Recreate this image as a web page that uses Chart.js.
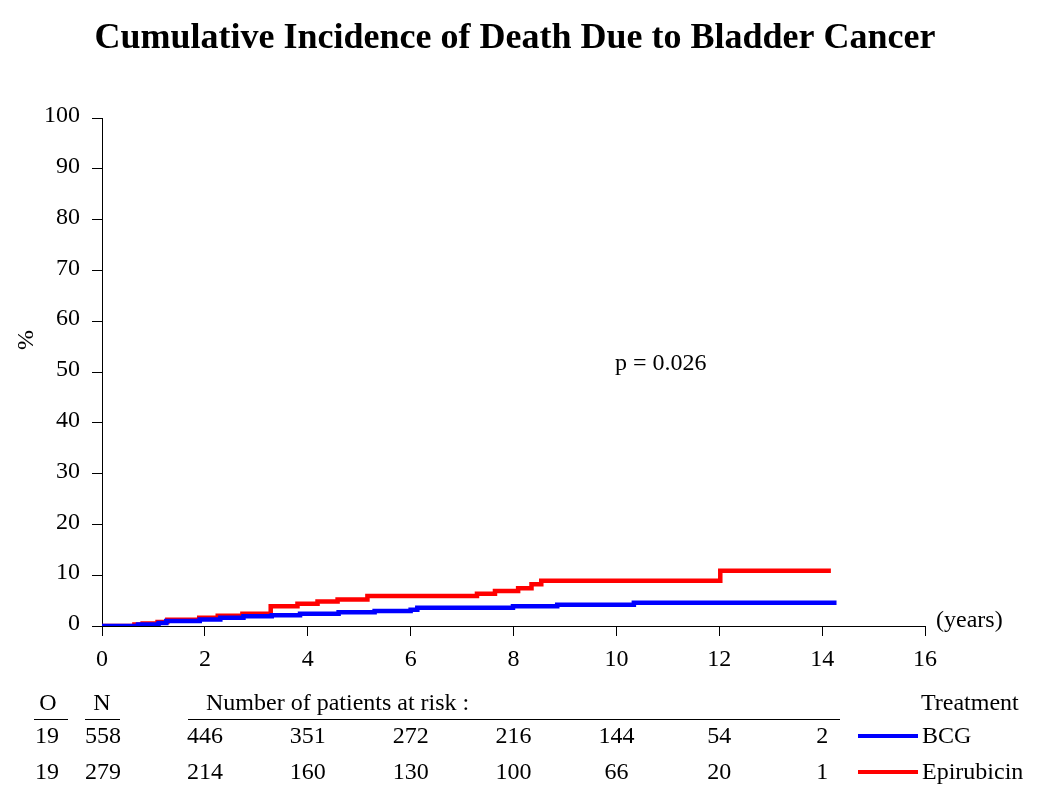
<!DOCTYPE html>
<html>
<head>
<meta charset="utf-8">
<script src="https://cdn.jsdelivr.net/npm/chart.js@4.4.1/dist/chart.umd.min.js"></script>
<style>
  body { margin: 0; background: #fff; }
  #wrap { width: 1050px; height: 790px; position: relative; }
</style>
</head>
<body>
<div id="wrap"><canvas id="kmChart"></canvas></div>
<script>
// curves (years, cumulative incidence %)
const bcgTimes  = [0, 0.7, 1.1, 1.25, 1.9, 2.3, 2.75, 3.3, 3.85, 4.6, 5.3, 6.0, 6.13, 7.99, 8.85, 10.34, 14.28];
const bcgValues = [0, 0.3, 0.6, 1.0, 1.3, 1.6, 1.9, 2.1, 2.4, 2.7, 2.95, 3.2, 3.6, 3.9, 4.2, 4.6, 4.6];
const epiTimes  = [0, 0.63, 0.79, 1.08, 1.27, 1.89, 2.25, 2.73, 3.28, 3.8, 4.19, 4.58, 5.16, 7.29, 7.64, 8.09, 8.35, 8.54, 12.02, 14.17];
const epiValues = [0, 0.3, 0.5, 0.8, 1.25, 1.6, 2.0, 2.4, 3.9, 4.4, 4.8, 5.2, 5.9, 6.35, 6.9, 7.45, 8.2, 8.9, 10.9, 10.9];

// risk table
const riskTimes = [2, 4, 6, 8, 10, 12, 14];
const bcgAtRisk = [446, 351, 272, 216, 144, 54, 2];
const epiAtRisk = [214, 160, 130, 100, 66, 20, 1];
const groupNames = ['BCG', 'Epirubicin'];
const groupColors = ['#0000ff', '#ff0000'];
const observed = [19, 19];
const totals = [558, 279];

const serif = '"Liberation Serif", "Times New Roman", serif';

function toPoints(xs, ys) {
  return xs.map((x, i) => ({ x: x, y: ys[i] }));
}

const extraText = {
  id: 'extraText',
  afterDraw(chart) {
    const c = chart.ctx;
    const xs = chart.scales.x;
    c.save();
    c.fillStyle = '#000';
    c.textBaseline = 'middle';

    // title
    c.font = 'bold 36px ' + serif;
    c.textAlign = 'center';
    c.fillText('Cumulative Incidence of Death Due to Bladder Cancer', 515, 39);

    c.font = '24px ' + serif;
    // y label
    c.save();
    c.translate(27, 340);
    c.rotate(-Math.PI / 2);
    c.fillText('%', 0, 0);
    c.restore();

    c.textAlign = 'left';
    c.fillText('(years)', 936, 621);
    c.fillText('p = 0.026', 615, 364);

    // risk table header
    const headY = 704, row1 = 737, row2 = 773;
    c.textAlign = 'center';
    c.fillText('O', 48, headY);
    c.fillText('N', 102, headY);
    c.textAlign = 'left';
    c.fillText('Number of patients at risk :', 206, headY);
    c.fillText('Treatment', 921, headY);

    c.strokeStyle = '#000';
    c.lineWidth = 1;
    c.beginPath();
    c.moveTo(34, 719.5); c.lineTo(68, 719.5);
    c.moveTo(85, 719.5); c.lineTo(120, 719.5);
    c.moveTo(188, 719.5); c.lineTo(840, 719.5);
    c.stroke();

    const rows = [bcgAtRisk, epiAtRisk];
    [row1, row2].forEach((y, r) => {
      c.fillStyle = '#000';
      c.textAlign = 'center';
      c.fillText(String(observed[r]), 47, y);
      c.textAlign = 'left';
      c.fillText(String(totals[r]), 85, y);
      c.textAlign = 'center';
      rows[r].forEach((n, i) => {
        c.fillText(String(n), xs.getPixelForValue(riskTimes[i]), y);
      });
      // legend
      c.strokeStyle = groupColors[r];
      c.lineWidth = 4;
      c.beginPath();
      c.moveTo(858, y - 1); c.lineTo(918, y - 1);
      c.stroke();
      c.textAlign = 'left';
      c.fillText(groupNames[r], 922, y);
    });
    c.restore();
  }
};

new Chart(document.getElementById('kmChart'), {
  type: 'line',
  data: {
    datasets: [
      {
        label: 'BCG',
        data: toPoints(bcgTimes, bcgValues),
        borderColor: groupColors[0],
        borderWidth: 4.5,
        stepped: true,
        pointRadius: 0,
        fill: false
      },
      {
        label: 'Epirubicin',
        data: toPoints(epiTimes, epiValues),
        borderColor: groupColors[1],
        borderWidth: 4.5,
        stepped: true,
        pointRadius: 0,
        fill: false
      }
    ]
  },
  options: {
    responsive: true,
    maintainAspectRatio: false,
    animation: false,
    layout: { padding: { top: 118, right: 125, left: 0, bottom: 0 } },
    plugins: {
      legend: { display: false },
      tooltip: { enabled: false }
    },
    scales: {
      x: {
        type: 'linear',
        min: 0,
        max: 16,
        afterFit(scale) { scale.height = 164; },
        ticks: { stepSize: 2, color: '#000', font: { family: serif, size: 24 }, padding: 9, maxRotation: 0 },
        grid: { drawOnChartArea: false, tickLength: 10, color: '#000', lineWidth: 1 },
        border: { color: '#000', width: 1 }
      },
      y: {
        min: 0,
        max: 100,
        afterFit(scale) { scale.width = 102; },
        ticks: { stepSize: 10, color: '#000', font: { family: serif, size: 24 }, padding: 12, labelOffset: -2 },
        grid: { drawOnChartArea: false, tickLength: 10, color: '#000', lineWidth: 1 },
        border: { color: '#000', width: 1 }
      }
    }
  },
  plugins: [extraText]
});
</script>
</body>
</html>
